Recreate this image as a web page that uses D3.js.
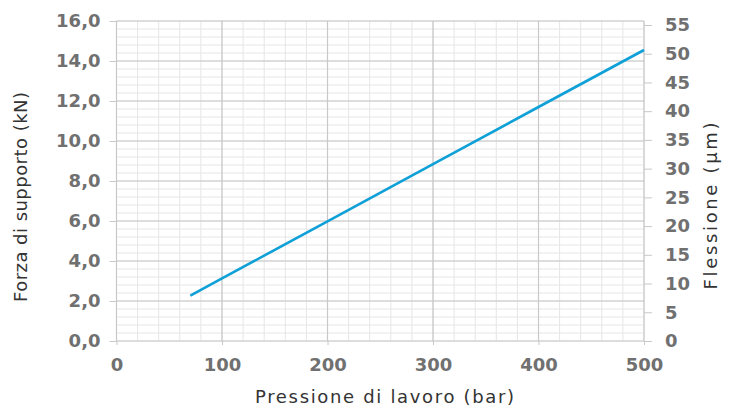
<!DOCTYPE html>
<html>
<head>
<meta charset="utf-8">
<script src="https://d3js.org/d3.v7.min.js"></script>
<style>
  body { margin: 0; background: #fff; }
  .tick text { font-family: "DejaVu Sans", sans-serif; font-weight: bold; fill: #707070; }
  .title { font-family: "DejaVu Sans", sans-serif; fill: #333; }
</style>
</head>
<body>
<svg id="chart"></svg>
<script>
// data
var pressure = [70, 100, 200, 300, 400, 500];       // bar
var force = [2.27, 3.13, 5.98, 8.84, 11.7, 14.55];  // kN
var xTicks = [0, 100, 200, 300, 400, 500];
var yTicks = [0, 2, 4, 6, 8, 10, 12, 14, 16];
var y2Ticks = [0, 5, 10, 15, 20, 25, 30, 35, 40, 45, 50, 55];

var W = 736, H = 412;
var svg = d3.select("#chart").attr("width", W).attr("height", H);

var x = d3.scaleLinear().domain([0, 500]).range([116.5, 644]);
var y = d3.scaleLinear().domain([0, 16]).range([341, 21]);
var y2 = d3.scaleLinear().domain([0, 55]).range([341, 25]);

// minor grid
var g = svg.append("g");
g.selectAll(".vminor").data(d3.range(0, 501, 20)).enter().append("line")
    .attr("x1", d => x(d)).attr("x2", d => x(d))
    .attr("y1", y(0)).attr("y2", y(16))
    .attr("stroke", "#e6e6e6").attr("stroke-width", 1);
g.selectAll(".hminor").data(d3.range(0, 16.01, 0.4)).enter().append("line")
    .attr("x1", x(0)).attr("x2", x(500))
    .attr("y1", d => y(d)).attr("y2", d => y(d))
    .attr("stroke", "#e6e6e6").attr("stroke-width", 1);
// major grid
g.selectAll(".vmajor").data(xTicks).enter().append("line")
    .attr("x1", d => x(d)).attr("x2", d => x(d))
    .attr("y1", y(0)).attr("y2", y(16))
    .attr("stroke", "#c8c8c8").attr("stroke-width", 1.2);
g.selectAll(".hmajor").data(yTicks).enter().append("line")
    .attr("x1", x(0)).attr("x2", x(500))
    .attr("y1", d => y(d)).attr("y2", d => y(d))
    .attr("stroke", "#c8c8c8").attr("stroke-width", 1.2);

// axes
var fmt = d => d.toFixed(1).replace(".", ",");
var ax = svg.append("g").attr("transform", "translate(0," + y(0) + ")")
    .call(d3.axisBottom(x).tickValues(xTicks).tickSize(4));
var ay = svg.append("g").attr("transform", "translate(" + x(0) + ",0)")
    .call(d3.axisLeft(y).tickValues(yTicks).tickFormat(fmt).tickSize(7).tickPadding(9));
var ay2 = svg.append("g").attr("transform", "translate(" + x(500) + ",0)")
    .call(d3.axisRight(y2).tickValues(y2Ticks).tickSize(8).tickPadding(13));

[ax, ay, ay2].forEach(a => {
    a.select(".domain").remove();
    a.selectAll(".tick line").attr("stroke", "#c8c8c8");
    a.selectAll(".tick text").style("font-size", "18px");
});
ax.selectAll(".tick text").attr("dy", null).attr("y", 30);

// line
svg.append("path")
    .datum(pressure.map((p, i) => [p, force[i]]))
    .attr("fill", "none")
    .attr("stroke", "#0fa0d8")
    .attr("stroke-width", 2.6)
    .attr("d", d3.line().x(d => x(d[0])).y(d => y(d[1])));

// titles
svg.append("text").attr("class", "title")
    .attr("x", 384.5).attr("y", 403)
    .attr("text-anchor", "middle").style("font-size", "18px")
    .attr("textLength", 259).attr("lengthAdjust", "spacing")
    .text("Pressione di lavoro (bar)");
svg.append("text").attr("class", "title")
    .attr("transform", "translate(27,197) rotate(-90)")
    .attr("text-anchor", "middle").style("font-size", "18px")
    .attr("textLength", 210).attr("lengthAdjust", "spacing")
    .text("Forza di supporto (kN)");
svg.append("text").attr("class", "title")
    .attr("transform", "translate(717,206) rotate(-90)")
    .attr("text-anchor", "middle").style("font-size", "18px")
    .attr("textLength", 167).attr("lengthAdjust", "spacing")
    .text("Flessione (µm)");
</script>
</body>
</html>
